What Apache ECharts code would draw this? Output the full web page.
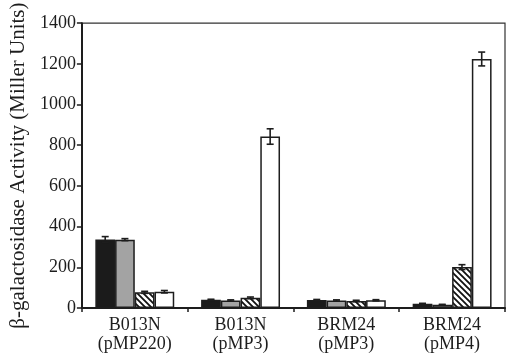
<!DOCTYPE html>
<html>
<head>
<meta charset="utf-8">
<script src="https://cdn.jsdelivr.net/npm/echarts@6/dist/echarts.min.js"></script>
<style>
  html, body { margin: 0; padding: 0; background: #fff; }
  #chart { width: 506px; height: 354px; }
</style>
</head>
<body>
<div id="chart"></div>
<script>
// Strains / plasmids on the x axis
var categories = ['B013N\n(pMP220)', 'B013N\n(pMP3)', 'BRM24\n(pMP3)', 'BRM24\n(pMP4)'];

// Mean β-galactosidase activity (Miller units) for the four conditions
var solidBlack = [337, 40, 39, 21];
var solidGray  = [336, 37, 37, 16];
var hatched    = [77, 50, 35, 201];
var openWhite  = [80, 843, 38, 1224];

// Standard deviations
var errBlack = [14, 3, 3, 2];
var errGray  = [5, 3, 3, 2];
var errHatch = [5, 4, 3, 12];
var errWhite = [6, 38, 3, 34];

var yTicks = { min: 0, max: 1400, step: 200 };

var FONT = "'Liberation Serif', 'DejaVu Serif', serif";
var INK = '#1d1d1d';

// Diagonal hatch fill
function hatchPattern() {
  var c = document.createElement('canvas');
  var s = 6;
  c.width = s; c.height = s;
  var g = c.getContext('2d');
  g.fillStyle = '#fff';
  g.fillRect(0, 0, s, s);
  g.strokeStyle = '#111';
  g.lineWidth = 1.8;
  g.beginPath();
  g.moveTo(-s, -s); g.lineTo(2 * s, 2 * s);
  g.moveTo(-s, 0); g.lineTo(s, 2 * s);
  g.moveTo(0, -s); g.lineTo(2 * s, s);
  g.stroke();
  return c;
}

var groups = [
  { name: 'A', data: solidBlack, err: errBlack, fill: '#1b1b1b' },
  { name: 'B', data: solidGray,  err: errGray,  fill: '#a3a3a3' },
  { name: 'C', data: hatched,    err: errHatch, fill: { image: hatchPattern(), repeat: 'repeat' } },
  { name: 'D', data: openWhite,  err: errWhite, fill: '#ffffff' }
];

var BAR_FRACTION = 0.746; // share of the category band taken by the four bars

var series = groups.map(function (g) {
  return {
    name: g.name,
    type: 'bar',
    data: g.data,
    barGap: '0%',
    barCategoryGap: ((1 - BAR_FRACTION) * 100).toFixed(1) + '%',
    itemStyle: { color: g.fill, borderColor: INK, borderWidth: 1.5 },
    z: 2
  };
});

// Error bars drawn on top of each bar
groups.forEach(function (g, gi) {
  series.push({
    type: 'custom',
    z: 5,
    data: g.data.map(function (v, i) { return [i, v - g.err[i], v + g.err[i]]; }),
    renderItem: function (params, api) {
      var x = api.value(0);
      var lo = api.coord([x, api.value(1)]);
      var hi = api.coord([x, api.value(2)]);
      var band = api.size([1, 0])[0];
      var bw = band * BAR_FRACTION / 4;
      var cx = lo[0] + (gi - 1.5) * bw;
      var cap = 3.5;
      var style = { stroke: INK, lineWidth: 1.6 };
      return {
        type: 'group',
        children: [
          { type: 'line', shape: { x1: cx, y1: lo[1], x2: cx, y2: hi[1] }, style: style },
          { type: 'line', shape: { x1: cx - cap, y1: hi[1], x2: cx + cap, y2: hi[1] }, style: style },
          { type: 'line', shape: { x1: cx - cap, y1: lo[1], x2: cx + cap, y2: lo[1] }, style: style }
        ]
      };
    },
    encode: { x: 0, y: [1, 2] },
    silent: true
  });
});

var chart = echarts.init(document.getElementById('chart'), null, { renderer: 'canvas' });
chart.setOption({
  backgroundColor: '#fff',
  animation: false,
  grid: {
    left: 76, right: 1, top: 17, bottom: 45,
    show: true, borderColor: '#333', borderWidth: 1.2, backgroundColor: 'transparent'
  },
  xAxis: {
    type: 'category',
    data: categories,
    axisLine: { lineStyle: { color: INK, width: 2 } },
    axisTick: { show: true, length: 4, lineStyle: { color: INK, width: 1.5 } },
    axisLabel: {
      fontFamily: FONT, fontSize: 18, color: INK, lineHeight: 19, margin: 8
    },
    splitLine: { show: false }
  },
  yAxis: {
    type: 'value',
    min: yTicks.min, max: yTicks.max, interval: yTicks.step,
    name: 'β-galactosidase Activity (Miller Units)',
    nameLocation: 'middle',
    nameGap: 49,
    nameTextStyle: { fontFamily: FONT, fontSize: 21, color: INK },
    axisLine: { show: true, lineStyle: { color: INK, width: 2 } },
    axisTick: { show: true, length: 5, lineStyle: { color: INK, width: 1.5 } },
    axisLabel: {
      fontFamily: FONT, fontSize: 18, color: INK, margin: 6,
      formatter: function (v) { return String(v); }
    },
    splitLine: { show: false }
  },
  series: series
});
</script>
</body>
</html>
